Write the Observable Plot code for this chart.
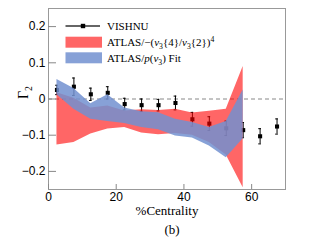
<!DOCTYPE html>
<html><head><meta charset="utf-8">
<script src="https://cdn.jsdelivr.net/npm/d3@7"></script>
<script src="https://cdn.jsdelivr.net/npm/@observablehq/plot@0.6"></script>
<style>body{margin:0;background:#fff;} svg{display:block;}</style>
</head><body><div id="chart"></div>
<script>
// VISHNU points
const centrality = [2.5, 7.5, 12.5, 17.5, 22.5, 27.5, 32.5, 37.5, 42.5, 47.5, 52.5, 57.5, 62.5, 67.5];
const vishnu     = [0.025, 0.034, 0.013, 0.017, -0.014, -0.017, -0.017, -0.011, -0.056, -0.068, -0.081, -0.086, -0.103, -0.076];
const vishnuErr  = [0.013, 0.024, 0.017, 0.017, 0.016, 0.017, 0.016, 0.019, 0.019, 0.019, 0.020, 0.021, 0.021, 0.021];
// ATLAS bands
const bandCentrality = [2.5, 7.5, 12.5, 17.5, 22.5, 27.5, 32.5, 37.5, 42.5, 47.5, 52.5, 57.5];
const redHi  = [0.017, 0.002, -0.025, -0.019, -0.033, -0.030, -0.032, -0.028, -0.039, -0.034, -0.028, 0.090];
const redLo  = [-0.127, -0.120, -0.097, -0.083, -0.079, -0.094, -0.099, -0.095, -0.100, -0.120, -0.155, -0.245];
const blueHi = [0.054, 0.029, -0.013, 0.012, -0.025, -0.035, -0.038, -0.056, -0.065, -0.079, -0.062, 0.025];
const blueLo = [0.012, -0.028, -0.056, -0.062, -0.068, -0.079, -0.085, -0.102, -0.108, -0.130, -0.162, -0.110];
// ticks & labels
const xTicks = [0, 20, 40, 60];
const yTicks = [-0.2, -0.1, 0, 0.1, 0.2];
const yTickLabels = ["\u22120.2", "\u22120.1", "0", "0.1", "0.2"];
const xLabel = "%Centrality";
const yLabel = "Γ2";
const caption = "(b)";
const legendLabels = ["VISHNU", "ATLAS/−(v3{4}/v3{2})4", "ATLAS/p(v3) Fit"];

const serif = "'Liberation Serif', 'Times New Roman', serif";
const redColor = "#ff0000", redOpacity = 0.6;
const blueColor = "#7290d0", blueOpacity = 0.85;

const vishnuData = centrality.map((x, i) => ({x, y: vishnu[i], lo: vishnu[i] - vishnuErr[i], hi: vishnu[i] + vishnuErr[i]}));
const bands = bandCentrality.map((x, i) => ({x, redLo: redLo[i], redHi: redHi[i], blueLo: blueLo[i], blueHi: blueHi[i]}));

const W = 323, H = 244, mL = 48, mR = 38, mT = 8, mB = 55;
const fw = W - mL - mR, fh = H - mT - mB;

const plot = Plot.plot({
  width: W, height: H, marginLeft: mL, marginRight: mR, marginTop: mT, marginBottom: mB,
  style: {fontFamily: "'Liberation Sans', Arial, sans-serif", fontSize: "12px", background: "white", color: "black"},
  x: {domain: [0, 70]},
  y: {domain: [-0.25, 0.25]},
  marks: [
    Plot.frame({stroke: "#999"}),
    Plot.ruleY([0], {stroke: "#888", strokeDasharray: "4,3"}),
    Plot.tickY(yTicks, {y: d => d, insetRight: fw - 8, stroke: "#888"}),
    Plot.tickX(xTicks, {x: d => d, insetTop: fh - 5, stroke: "#888"}),
    Plot.ruleX(vishnuData, {x: "x", y1: "lo", y2: "hi", stroke: "black"}),
    Plot.ruleY(vishnuData, {y: "lo", x1: d => d.x - 0.4, x2: d => d.x + 0.4, stroke: "black"}),
    Plot.ruleY(vishnuData, {y: "hi", x1: d => d.x - 0.4, x2: d => d.x + 0.4, stroke: "black"}),
    Plot.dot(vishnuData, {x: "x", y: "y", symbol: "square", r: 2.3, fill: "black"}),
    Plot.areaY(bands, {x: "x", y1: "redLo", y2: "redHi", fill: redColor, fillOpacity: redOpacity}),
    Plot.areaY(bands, {x: "x", y1: "blueLo", y2: "blueHi", fill: blueColor, fillOpacity: blueOpacity}),
    Plot.axisX({ticks: xTicks, tickSize: 0, tickPadding: 3, label: null, line: true}),
    Plot.axisY({ticks: yTicks, tickSize: 0, tickPadding: 3, tickFormat: d => yTickLabels[yTicks.indexOf(d)], label: null, line: true}),
    Plot.text([xLabel], {text: d => d, frameAnchor: "bottom", dy: 25, fontFamily: serif, fontSize: 13}),
    Plot.text([yLabel], {text: d => d, frameAnchor: "left", dx: -25, rotate: -90, fontFamily: serif, fontSize: 14}),
    Plot.text([caption], {text: d => d, frameAnchor: "bottom", dx: 5, dy: 44, fontFamily: serif, fontSize: 13})
  ]
});
document.getElementById("chart").appendChild(plot);

// rich text helper
function rich(sel, segs, fs) {
  sel.text(null);
  let shift = 0;
  segs.forEach(s => {
    const t = sel.append("tspan").text(s.t);
    let target = s.sub ? 0.3 * fs : s.sup ? -0.4 * fs : 0;
    if (target !== shift) { t.attr("dy", target - shift); shift = target; }
    if (s.sub || s.sup) t.attr("font-size", fs * 0.7);
    if (s.i) t.attr("font-style", "italic");
  });
}

// y label subscript
d3.select(plot).selectAll("text").filter(function() { return this.textContent === yLabel; }).each(function() {
  rich(d3.select(this), [{t: "Γ"}, {t: "2", sub: true}], 14);
});

// legend
const svg = d3.select(plot);
const lg = svg.append("g").attr("font-family", serif).attr("font-size", 11).attr("text-anchor", "start");
const lx = mL + 17.5, lw = 36.5, tx = mL + 59;
lg.append("line").attr("x1", lx).attr("x2", lx + lw - 2).attr("y1", 26).attr("y2", 26).attr("stroke", "#333").attr("stroke-width", 1.6);
lg.append("rect").attr("x", lx + 15.3).attr("y", 23.8).attr("width", 4.4).attr("height", 4.4).attr("fill", "black");
lg.append("rect").attr("x", lx).attr("y", 36.7).attr("width", lw).attr("height", 11).attr("fill", redColor).attr("fill-opacity", redOpacity);
lg.append("rect").attr("x", lx).attr("y", 52.3).attr("width", lw).attr("height", 11).attr("fill", blueColor).attr("fill-opacity", blueOpacity);
const t1 = lg.append("text").attr("x", tx).attr("y", 30);
rich(t1, [{t: legendLabels[0]}], 11);
const t2 = lg.append("text").attr("x", tx).attr("y", 46);
rich(t2, [{t: "ATLAS/−("}, {t: "v", i: true}, {t: "3", sub: true}, {t: "{4}/"}, {t: "v", i: true}, {t: "3", sub: true}, {t: "{2})"}, {t: "4", sup: true}], 11);
const t3 = lg.append("text").attr("x", tx).attr("y", 62);
rich(t3, [{t: "ATLAS/"}, {t: "p", i: true}, {t: "("}, {t: "v", i: true}, {t: "3", sub: true}, {t: ") Fit"}], 11);
</script>
</body></html>
